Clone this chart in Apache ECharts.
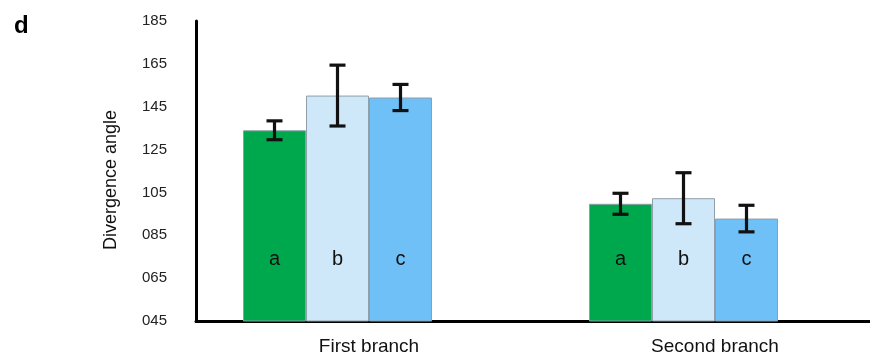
<!DOCTYPE html>
<html>
<head>
<meta charset="utf-8">
<script src="https://cdn.jsdelivr.net/npm/echarts@6/dist/echarts.min.js"></script>
<style>html,body{margin:0;padding:0;background:#fff}#c{width:870px;height:356px}</style>
</head>
<body>
<div id="c"></div>
<script>
var categories = ['First branch', 'Second branch'];
var groupLetters = ['a', 'b', 'c'];
var meanA = [134.0, 99.7];
var meanB = [150.2, 102.3];
var meanC = [149.3, 92.8];
var errA = [4.4, 4.9];
var errB = [14.2, 11.9];
var errC = [6.1, 6.2];
var yMin = 45, yMax = 185, yStep = 20;
var colors = ['#00a84d', '#cfe8f9', '#6ec0f6'];

var BAR_W = 63;
var means = [meanA, meanB, meanC];
var errs = [errA, errB, errC];
var FONT = 'Liberation Sans, Arial, Helvetica, sans-serif';

var series = [];
means.forEach(function (m, k) {
  series.push({
    type: 'bar',
    name: groupLetters[k],
    data: m,
    barWidth: BAR_W,
    barGap: '0%',
    itemStyle: { color: colors[k], borderColor: '#8f9ea8', borderWidth: 1 },
    label: {
      show: true, position: 'insideBottom', distance: 52,
      formatter: groupLetters[k], color: '#111', fontSize: 20, fontFamily: FONT
    },
    z: 2
  });
});
// empty slot so the three bars sit left of the category centre, as in the figure
series.push({ type: 'bar', name: 'spacer', data: [null, null], barWidth: BAR_W, barGap: '0%', silent: true });

means.forEach(function (m, k) {
  var d = m.map(function (v, i) { return [i, v, errs[k][i]]; });
  series.push({
    type: 'custom',
    name: 'err' + k,
    data: d,
    z: 5,
    clip: false,
    renderItem: function (params, api) {
      var i = api.value(0), v = api.value(1), e = api.value(2);
      var c = api.coord([i, v]);
      var x = c[0] + (k - 1.5) * BAR_W;
      var yt = api.coord([i, v + e])[1];
      var yb = api.coord([i, v - e])[1];
      var hw = 8;
      var st = { stroke: '#111', lineWidth: 3.2 };
      return {
        type: 'group',
        children: [
          { type: 'line', shape: { x1: x, y1: yt, x2: x, y2: yb }, style: st },
          { type: 'line', shape: { x1: x - hw, y1: yt, x2: x + hw, y2: yt }, style: st },
          { type: 'line', shape: { x1: x - hw, y1: yb, x2: x + hw, y2: yb }, style: st }
        ]
      };
    }
  });
});

var chart = echarts.init(document.getElementById('c'), null, { renderer: 'canvas' });
chart.setOption({
  animation: false,
  backgroundColor: '#fff',
  title: { text: 'd', left: 9, top: 9, textStyle: { fontSize: 24, fontWeight: 'bold', color: '#000', fontFamily: FONT } },
  grid: { left: 196, width: 692, top: 21, height: 300, containLabel: false, outerBoundsMode: 'none' },
  xAxis: {
    type: 'category',
    data: categories,
    axisLine: { lineStyle: { color: '#000', width: 3 } },
    axisTick: { show: false },
    axisLabel: { color: '#111', fontSize: 19, margin: 16, fontFamily: FONT }
  },
  yAxis: {
    type: 'value',
    min: yMin, max: yMax, interval: yStep,
    name: 'Divergence angle',
    nameLocation: 'middle',
    nameGap: 76,
    nameTextStyle: { fontSize: 18, color: '#111', fontFamily: FONT, padding: [0, 0, 0, -18] },
    splitLine: { show: false },
    axisTick: { show: false },
    axisLine: { show: true, lineStyle: { color: '#000', width: 3 } },
    axisLabel: {
      color: '#222', fontSize: 15, margin: 29, fontFamily: FONT,
      formatter: function (v) { var s = String(Math.round(v)); while (s.length < 3) s = '0' + s; return s; }
    }
  },
  series: series
});
</script>
</body>
</html>
